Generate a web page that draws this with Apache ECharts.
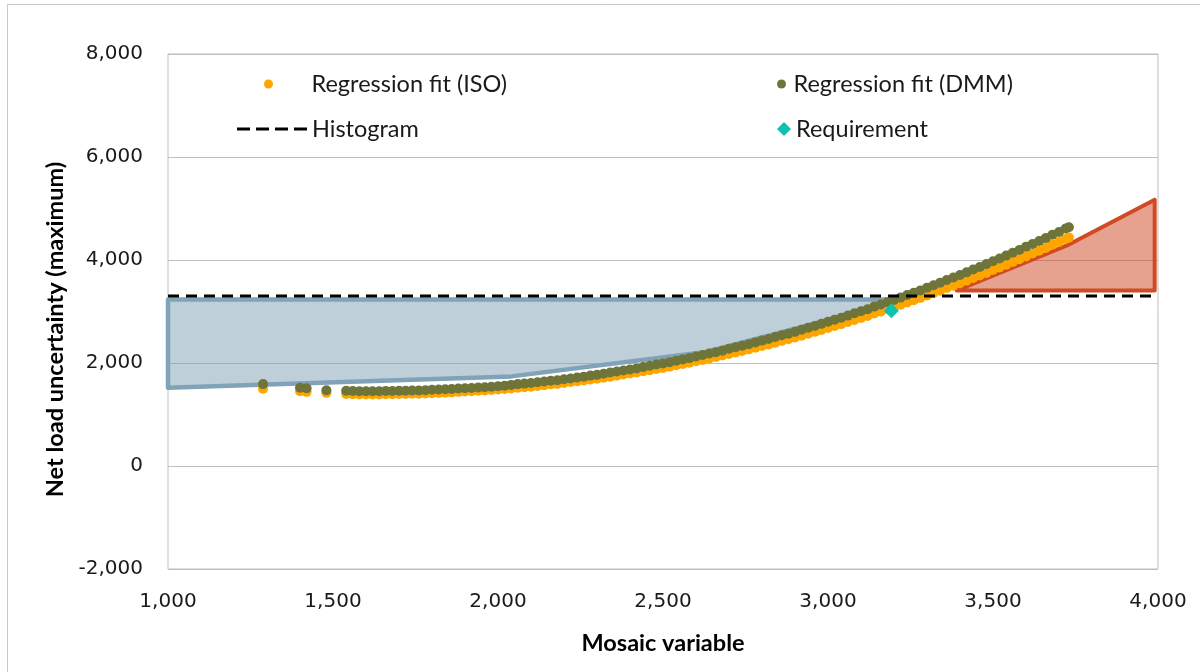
<!DOCTYPE html>
<html>
<head>
<meta charset="utf-8">
<script src="https://cdn.jsdelivr.net/npm/echarts@6/dist/echarts.min.js"></script>
<style>
  html, body { margin: 0; padding: 0; background: #fff; }
  #chart { width: 1200px; height: 672px; }
</style>
</head>
<body>
<div id="chart"></div>
<script>
// mosaic variable (x) shared by both regression fits
const mosaicX = [
  1288, 1400, 1420, 1480,
  1540, 1560, 1580, 1600, 1620, 1640, 1660, 1680, 1700, 1720, 1740, 1760, 1780,
  1800, 1820, 1840, 1860, 1880, 1900, 1920, 1940, 1960, 1980,
  2000, 2020, 2040, 2060, 2080, 2100, 2120, 2140, 2160, 2180,
  2200, 2220, 2240, 2260, 2280, 2300, 2320, 2340, 2360, 2380,
  2400, 2420, 2440, 2460, 2480, 2500, 2520, 2540, 2560, 2580,
  2600, 2620, 2640, 2660, 2680, 2700, 2720, 2740, 2760, 2780,
  2800, 2820, 2840, 2860, 2880, 2900, 2920, 2940, 2960, 2980,
  3000, 3020, 3040, 3060, 3080, 3100, 3120, 3140, 3160, 3180,
  3200, 3220, 3240, 3260, 3280, 3300, 3320, 3340, 3360, 3380,
  3400, 3420, 3440, 3460, 3480, 3500, 3520, 3540, 3560, 3580,
  3600, 3620, 3640, 3660, 3680, 3700, 3720, 3730
]
// Regression fit (ISO)
const isoFit = [
  1500, 1450, 1440, 1420,
  1400, 1395, 1390, 1390, 1390, 1390, 1395, 1395, 1400, 1400, 1405, 1405, 1410,
  1415, 1420, 1425, 1430, 1440, 1445, 1450, 1460, 1465, 1475,
  1485, 1495, 1505, 1520, 1530, 1540, 1555, 1570, 1585, 1595,
  1610, 1630, 1645, 1660, 1680, 1695, 1715, 1735, 1755, 1775,
  1795, 1815, 1840, 1860, 1885, 1905, 1930, 1955, 1980, 2005,
  2035, 2060, 2090, 2115, 2145, 2175, 2205, 2235, 2265, 2295,
  2330, 2360, 2395, 2430, 2460, 2495, 2530, 2570, 2605, 2640,
  2680, 2720, 2755, 2795, 2835, 2875, 2915, 2960, 3000, 3045,
  3085, 3130, 3175, 3220, 3265, 3310, 3360, 3405, 3455, 3500,
  3550, 3600, 3650, 3700, 3750, 3805, 3855, 3910, 3960, 4015,
  4070, 4125, 4180, 4235, 4295, 4350, 4410, 4435
]
// Regression fit (DMM)
const dmmFit = [
  1590, 1520, 1510, 1470,
  1460, 1455, 1450, 1450, 1450, 1450, 1455, 1455, 1460, 1460, 1465, 1465, 1470,
  1480, 1485, 1490, 1495, 1505, 1510, 1515, 1525, 1530, 1540,
  1550, 1560, 1575, 1590, 1600, 1610, 1625, 1640, 1655, 1665,
  1685, 1700, 1720, 1735, 1755, 1770, 1790, 1815, 1835, 1855,
  1875, 1895, 1920, 1945, 1970, 1990, 2015, 2045, 2070, 2095,
  2125, 2155, 2185, 2210, 2240, 2275, 2305, 2335, 2365, 2400,
  2435, 2465, 2505, 2540, 2570, 2605, 2645, 2685, 2720, 2760,
  2800, 2840, 2880, 2920, 2965, 3005, 3045, 3095, 3135, 3180,
  3225, 3270, 3320, 3365, 3410, 3460, 3510, 3560, 3610, 3660,
  3710, 3760, 3815, 3865, 3920, 3975, 4030, 4085, 4140, 4195,
  4255, 4310, 4370, 4425, 4490, 4545, 4610, 4635
]
const histogramLine = [[1000, 3300], [4000, 3300]]
const requirementPoint = [[3192, 3015]]
// shaded regions (vertices in data units)
const bluePolygon = [[1000, 3235], [3240, 3235], [2630, 2215], [2040, 1740], [1000, 1520]]
const redPolygon = [[3390, 3410], [3730, 4300], [3990, 5170], [3990, 3410]]
const xTicks = { min: 1000, max: 4000, interval: 500 }
const yTicks = { min: -2000, max: 8000, interval: 2000 }

const isoData = mosaicX.map((x, i) => [x, isoFit[i]])
const dmmData = mosaicX.map((x, i) => [x, dmmFit[i]])

const chartInstance = echarts.init(document.getElementById('chart'))
const labelFont = 'DejaVu Sans'
const textFont = 'Lato'
const legendText = { fontFamily: textFont, fontSize: 23.5, color: '#1a1a1a' }
const titleText = { fontFamily: textFont, fontSize: 23.5, fontWeight: 'bold', color: '#000' }

function polygonSeries (points, fill, stroke, width) {
  return {
    type: 'custom',
    silent: true,
    data: [points[0]],
    renderItem: (params, api) => {
      return {
        type: 'polygon',
        shape: { points: points.map(p => api.coord(p)) },
        style: { fill: fill, stroke: stroke, lineWidth: width, lineJoin: 'round' }
      }
    }
  }
}

const option = {
  animation: false,
  backgroundColor: '#fff',
  graphic: [
    {
      type: 'rect',
      shape: { x: 7.5, y: 4.5, width: 1300, height: 800 },
      style: { fill: 'none', stroke: '#c8c8c8', lineWidth: 1 },
      silent: true
    }
  ],
  grid: {
    left: 168,
    right: 42,
    top: 54,
    bottom: 103,
    show: true,
    borderColor: '#bfbfbf',
    borderWidth: 1
  },
  legend: [
    {
      data: [{ name: 'Regression fit (ISO)', icon: 'circle' }],
      left: 259, top: 67, itemWidth: 14, itemHeight: 9,
      textStyle: Object.assign({ padding: [0, 0, 0, 31] }, legendText)
    },
    {
      data: [{ name: 'Regression fit (DMM)', icon: 'circle' }],
      left: 772, top: 67, itemWidth: 14, itemHeight: 9,
      textStyle: legendText
    },
    {
      data: [{
        name: 'Histogram',
        icon: 'path://M0,0h13v3h-13z M19,0h13v3h-13z M38,0h13v3h-13z M57,0h13v3h-13z'
      }],
      left: 232, top: 112, itemWidth: 70, itemHeight: 3,
      itemStyle: { color: '#000' },
      textStyle: legendText
    },
    {
      data: [{ name: 'Requirement', icon: 'diamond' }],
      left: 772, top: 112, itemWidth: 14, itemHeight: 14,
      textStyle: legendText
    }
  ],
  xAxis: {
    type: 'value',
    min: xTicks.min,
    max: xTicks.max,
    interval: xTicks.interval,
    name: 'Mosaic variable',
    nameLocation: 'middle',
    nameGap: 62,
    nameTextStyle: titleText,
    axisLine: { show: false },
    axisTick: { show: false },
    splitLine: { show: false },
    axisLabel: {
      margin: 23,
      fontFamily: labelFont,
      fontSize: 20,
      color: '#1a1a1a',
      formatter: v => v.toLocaleString('en-US')
    }
  },
  yAxis: {
    type: 'value',
    min: yTicks.min,
    max: yTicks.max,
    interval: yTicks.interval,
    name: 'Net load uncertainty (maximum)',
    nameLocation: 'middle',
    nameRotate: 90,
    nameGap: 100,
    nameTextStyle: Object.assign({ padding: [0, 36, 0, 0] }, titleText),
    axisLine: { show: false },
    axisTick: { show: false },
    splitLine: { show: true, lineStyle: { color: '#bfbfbf', width: 1 } },
    axisLabel: {
      margin: 25,
      fontFamily: labelFont,
      fontSize: 20,
      color: '#1a1a1a',
      formatter: v => v.toLocaleString('en-US')
    }
  },
  series: [
    {
      name: 'Histogram',
      type: 'line',
      data: histogramLine,
      showSymbol: false,
      symbol: 'none',
      lineStyle: { color: '#000', width: 3, type: [11, 7] },
      itemStyle: { color: '#000' }
    },
    {
      name: 'Regression fit (ISO)',
      type: 'scatter',
      data: isoData,
      symbol: 'circle',
      symbolSize: 10,
      itemStyle: { color: '#ffa500', opacity: 1 }
    },
    {
      name: 'Regression fit (DMM)',
      type: 'scatter',
      data: dmmData,
      symbol: 'circle',
      symbolSize: 10,
      itemStyle: { color: '#6f7539', opacity: 1 }
    },
    {
      name: 'Requirement',
      type: 'scatter',
      data: requirementPoint,
      symbol: 'diamond',
      symbolSize: 15,
      itemStyle: { color: '#10c2ad', opacity: 1 }
    },
    polygonSeries(bluePolygon, 'rgba(128,160,182,0.5)', '#80a3b8', 4.5),
    polygonSeries(redPolygon, 'rgba(205,68,32,0.5)', '#d04a24', 4)
  ]
}
chartInstance.setOption(option)
</script>
</body>
</html>
